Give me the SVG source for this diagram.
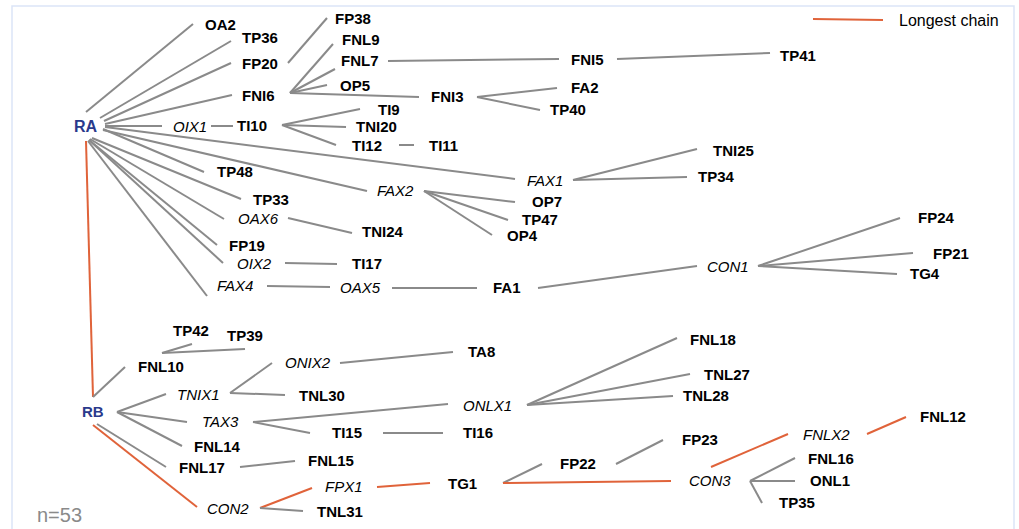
<svg xmlns="http://www.w3.org/2000/svg" width="1019" height="529" viewBox="0 0 1019 529">
<style>
text{font-family:"Liberation Sans",Arial,sans-serif;font-size:15px;fill:#000}
.b{font-weight:bold}
.i{font-style:italic}
.root{font-weight:bold;fill:#2a3a8c}
.e{stroke:#8a8a8a;stroke-width:2;fill:none}
.o{stroke:#e0633a;stroke-width:2;fill:none}
</style>
<rect x="12" y="6" width="1002" height="540" fill="#fff" stroke="#dbe5f7" stroke-width="1.5"/>
<g id="connectors">
<line class="e" x1="86" y1="112" x2="193" y2="24"/>
<line class="e" x1="100" y1="118" x2="231" y2="41"/>
<line class="e" x1="104" y1="121" x2="231" y2="63"/>
<line class="e" x1="105" y1="124" x2="232" y2="95"/>
<line class="e" x1="105" y1="126" x2="162" y2="126"/>
<line class="e" x1="105" y1="127" x2="515" y2="179"/>
<line class="e" x1="103" y1="129" x2="204" y2="172"/>
<line class="e" x1="103" y1="130" x2="367" y2="191"/>
<line class="e" x1="92" y1="138" x2="241" y2="199"/>
<line class="e" x1="90" y1="139" x2="224" y2="219"/>
<line class="e" x1="89" y1="140" x2="217" y2="245"/>
<line class="e" x1="89" y1="140" x2="223" y2="263"/>
<line class="e" x1="88" y1="141" x2="207" y2="296"/>
<line class="o" x1="86" y1="141" x2="93" y2="397"/>
<line class="e" x1="288" y1="63" x2="327" y2="18"/>
<line class="e" x1="290" y1="93" x2="333" y2="44"/>
<line class="e" x1="290" y1="93" x2="335" y2="69"/>
<line class="e" x1="290" y1="93" x2="327" y2="85"/>
<line class="e" x1="290" y1="93" x2="419" y2="97"/>
<line class="e" x1="388" y1="61" x2="559" y2="59"/>
<line class="e" x1="617" y1="59" x2="770" y2="53"/>
<line class="e" x1="477" y1="97" x2="557" y2="88"/>
<line class="e" x1="477" y1="97" x2="540" y2="110"/>
<line class="e" x1="211" y1="126" x2="233" y2="126"/>
<line class="e" x1="282" y1="125" x2="360" y2="109"/>
<line class="e" x1="282" y1="125" x2="346" y2="127"/>
<line class="e" x1="282" y1="125" x2="336" y2="145"/>
<line class="e" x1="399" y1="145" x2="414" y2="145"/>
<line class="e" x1="573" y1="180" x2="697" y2="149"/>
<line class="e" x1="573" y1="180" x2="687" y2="177"/>
<line class="e" x1="424" y1="191" x2="515" y2="202"/>
<line class="e" x1="424" y1="191" x2="508" y2="220"/>
<line class="e" x1="424" y1="191" x2="492" y2="235"/>
<line class="e" x1="288" y1="218" x2="352" y2="233"/>
<line class="e" x1="285" y1="263" x2="337" y2="264"/>
<line class="e" x1="267" y1="286" x2="330" y2="287"/>
<line class="e" x1="392" y1="288" x2="477" y2="288"/>
<line class="e" x1="538" y1="288" x2="697" y2="266"/>
<line class="e" x1="758" y1="266" x2="900" y2="218"/>
<line class="e" x1="758" y1="266" x2="913" y2="253"/>
<line class="e" x1="758" y1="266" x2="897" y2="274"/>
<line class="e" x1="93" y1="397" x2="125" y2="367"/>
<line class="e" x1="162" y1="353" x2="192" y2="344"/>
<line class="e" x1="162" y1="353" x2="245" y2="349"/>
<line class="e" x1="117" y1="412" x2="166" y2="394"/>
<line class="e" x1="117" y1="412" x2="187" y2="422"/>
<line class="e" x1="117" y1="412" x2="182" y2="446"/>
<line class="e" x1="97" y1="424" x2="166" y2="467"/>
<line class="o" x1="93" y1="425" x2="197" y2="507"/>
<line class="e" x1="230" y1="393" x2="272" y2="363"/>
<line class="e" x1="230" y1="393" x2="285" y2="395"/>
<line class="e" x1="340" y1="363" x2="453" y2="352"/>
<line class="e" x1="253" y1="422" x2="448" y2="404"/>
<line class="e" x1="253" y1="422" x2="310" y2="433"/>
<line class="e" x1="527" y1="405" x2="677" y2="338"/>
<line class="e" x1="527" y1="405" x2="690" y2="374"/>
<line class="e" x1="527" y1="405" x2="673" y2="396"/>
<line class="e" x1="383" y1="433" x2="443" y2="433"/>
<line class="e" x1="240" y1="467" x2="295" y2="461"/>
<line class="o" x1="260" y1="508" x2="312" y2="488"/>
<line class="e" x1="260" y1="508" x2="303" y2="511"/>
<line class="o" x1="377" y1="487" x2="430" y2="483"/>
<line class="e" x1="503" y1="483" x2="542" y2="464"/>
<line class="e" x1="616" y1="464" x2="663" y2="440"/>
<line class="o" x1="503" y1="483" x2="671" y2="481"/>
<line class="o" x1="711" y1="467" x2="788" y2="434"/>
<line class="o" x1="867" y1="434" x2="906" y2="417"/>
<line class="e" x1="750" y1="481" x2="795" y2="458"/>
<line class="e" x1="750" y1="481" x2="795" y2="481"/>
<line class="e" x1="750" y1="481" x2="762" y2="503"/>
</g>
<g id="legend">
<line class="o" x1="813" y1="19" x2="883" y2="20"/>
<text x="899" y="26" style="font-size:16px">Longest chain</text>
</g>
<g id="RA"><text class="root" x="74" y="132" style="font-size:16px">RA</text></g>
<g id="RB"><text class="root" x="82" y="417">RB</text></g>
<g id="OA2"><text class="b" x="205" y="30">OA2</text></g>
<g id="TP36"><text class="b" x="242" y="43">TP36</text></g>
<g id="FP20"><text class="b" x="242" y="69">FP20</text></g>
<g id="FNI6"><text class="b" x="242" y="101">FNI6</text></g>
<g id="FP38"><text class="b" x="335" y="24">FP38</text></g>
<g id="FNL9"><text class="b" x="342" y="45">FNL9</text></g>
<g id="FNL7"><text class="b" x="341" y="66">FNL7</text></g>
<g id="OP5"><text class="b" x="340" y="91">OP5</text></g>
<g id="FNI5"><text class="b" x="571" y="65">FNI5</text></g>
<g id="TP41"><text class="b" x="780" y="61">TP41</text></g>
<g id="FNI3"><text class="b" x="431" y="102">FNI3</text></g>
<g id="FA2"><text class="b" x="571" y="93">FA2</text></g>
<g id="TP40"><text class="b" x="550" y="115">TP40</text></g>
<g id="OIX1"><text class="i" x="173" y="132">OIX1</text></g>
<g id="TI10"><text class="b" x="237" y="131">TI10</text></g>
<g id="TI9"><text class="b" x="378" y="115">TI9</text></g>
<g id="TNI20"><text class="b" x="356" y="132">TNI20</text></g>
<g id="TI12"><text class="b" x="352" y="151">TI12</text></g>
<g id="TI11"><text class="b" x="429" y="151">TI11</text></g>
<g id="FAX1"><text class="i" x="527" y="186">FAX1</text></g>
<g id="TNI25"><text class="b" x="713" y="156">TNI25</text></g>
<g id="TP34"><text class="b" x="698" y="182">TP34</text></g>
<g id="TP48"><text class="b" x="217" y="177">TP48</text></g>
<g id="TP33"><text class="b" x="253" y="205">TP33</text></g>
<g id="OAX6"><text class="i" x="238" y="224">OAX6</text></g>
<g id="FAX2"><text class="i" x="377" y="196">FAX2</text></g>
<g id="OP7"><text class="b" x="532" y="207">OP7</text></g>
<g id="TP47"><text class="b" x="522" y="225">TP47</text></g>
<g id="OP4"><text class="b" x="507" y="241">OP4</text></g>
<g id="TNI24"><text class="b" x="362" y="237">TNI24</text></g>
<g id="FP19"><text class="b" x="229" y="251">FP19</text></g>
<g id="OIX2"><text class="i" x="237" y="269">OIX2</text></g>
<g id="TI17"><text class="b" x="352" y="269">TI17</text></g>
<g id="FAX4"><text class="i" x="217" y="291">FAX4</text></g>
<g id="OAX5"><text class="i" x="340" y="293">OAX5</text></g>
<g id="FA1"><text class="b" x="493" y="293">FA1</text></g>
<g id="CON1"><text class="i" x="707" y="272">CON1</text></g>
<g id="FP24"><text class="b" x="918" y="223">FP24</text></g>
<g id="FP21"><text class="b" x="933" y="259">FP21</text></g>
<g id="TG4"><text class="b" x="910" y="279">TG4</text></g>
<g id="TP42"><text class="b" x="173" y="336">TP42</text></g>
<g id="TP39"><text class="b" x="227" y="341">TP39</text></g>
<g id="FNL10"><text class="b" x="138" y="372">FNL10</text></g>
<g id="TNIX1"><text class="i" x="177" y="400">TNIX1</text></g>
<g id="ONIX2"><text class="i" x="285" y="368">ONIX2</text></g>
<g id="TA8"><text class="b" x="468" y="357">TA8</text></g>
<g id="TNL30"><text class="b" x="299" y="401">TNL30</text></g>
<g id="TAX3"><text class="i" x="202" y="427">TAX3</text></g>
<g id="ONLX1"><text class="i" x="463" y="411">ONLX1</text></g>
<g id="FNL18"><text class="b" x="690" y="345">FNL18</text></g>
<g id="TNL27"><text class="b" x="704" y="380">TNL27</text></g>
<g id="TNL28"><text class="b" x="683" y="401">TNL28</text></g>
<g id="TI15"><text class="b" x="332" y="438">TI15</text></g>
<g id="TI16"><text class="b" x="463" y="438">TI16</text></g>
<g id="FNL14"><text class="b" x="194" y="452">FNL14</text></g>
<g id="FNL17"><text class="b" x="179" y="473">FNL17</text></g>
<g id="FNL15"><text class="b" x="308" y="466">FNL15</text></g>
<g id="CON2"><text class="i" x="207" y="514">CON2</text></g>
<g id="FPX1"><text class="i" x="325" y="492">FPX1</text></g>
<g id="TNL31"><text class="b" x="317" y="517">TNL31</text></g>
<g id="TG1"><text class="b" x="448" y="489">TG1</text></g>
<g id="FP22"><text class="b" x="560" y="469">FP22</text></g>
<g id="FP23"><text class="b" x="682" y="445">FP23</text></g>
<g id="CON3"><text class="i" x="689" y="486">CON3</text></g>
<g id="FNLX2"><text class="i" x="803" y="440">FNLX2</text></g>
<g id="FNL12"><text class="b" x="920" y="422">FNL12</text></g>
<g id="FNL16"><text class="b" x="808" y="464">FNL16</text></g>
<g id="ONL1"><text class="b" x="810" y="486">ONL1</text></g>
<g id="TP35"><text class="b" x="779" y="508">TP35</text></g>
<g id="count"><text x="37" y="522" style="font-size:20px;fill:#8a8a8a">n=53</text></g>
</svg>
